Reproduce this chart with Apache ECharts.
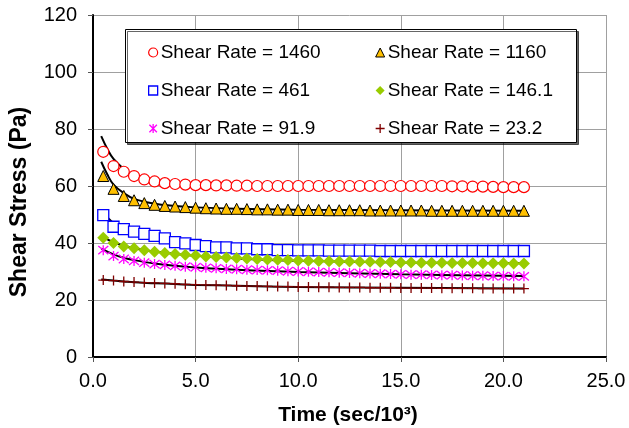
<!DOCTYPE html>
<html>
<head>
<meta charset="utf-8">
<script src="https://cdn.jsdelivr.net/npm/echarts@6/dist/echarts.min.js"></script>
<style>
  html, body { margin: 0; padding: 0; background: #fff; }
  #chart { width: 629px; height: 428px; }
</style>
</head>
<body>
<div id="chart"></div>
<script>
// Measurement times (sec/10^3)
const times = [0.5,1,1.5,2,2.5,3,3.5,4,4.5,5,5.5,6,6.5,7,7.5,8,8.5,9,9.5,10,10.5,11,11.5,12,12.5,13,13.5,14,14.5,15,15.5,16,16.5,17,17.5,18,18.5,19,19.5,20,20.5,21];

// Measured shear stress (Pa) per shear rate
const rate1460 = [72,67,65,63.5,62.3,61.6,61,60.7,60.5,60.3,60.3,60.2,60.2,60.1,60.1,60,60,60,60,60,60,60,60,60,60,60,60,60,60,60,60,60,60,60,59.9,59.9,59.8,59.8,59.7,59.6,59.6,59.6];
const rate1160 = [63.5,59,56.5,55,54,53.4,53,52.8,52.6,52.4,52.2,52.1,52,52,51.9,51.8,51.8,51.7,51.7,51.6,51.6,51.6,51.5,51.5,51.5,51.5,51.4,51.4,51.4,51.4,51.4,51.4,51.3,51.3,51.3,51.3,51.3,51.3,51.3,51.3,51.3,51.3];
const rate461 = [49.8,45.7,44.9,44.0,43.2,42.5,41.6,40.3,39.9,39.3,38.9,38.5,38.5,38.1,38.1,37.8,37.8,37.5,37.5,37.4,37.4,37.4,37.3,37.3,37.3,37.3,37.3,37.2,37.2,37.2,37.2,37.2,37.2,37.2,37.2,37.2,37.2,37.2,37.2,37.2,37.2,37.2];
const rate146 = [41.8,40,38.8,38.2,37.5,36.9,36.5,36.1,35.9,35.6,35.3,35.1,34.9,34.7,34.6,34.4,34.2,34.1,34.0,33.9,33.8,33.7,33.6,33.5,33.5,33.4,33.4,33.3,33.3,33.2,33.2,33.1,33.1,33.1,33.0,33.0,33.0,32.9,32.9,32.9,32.8,32.8];
const rate91 = [37.5,35.4,34.4,33.7,33.1,32.6,32.3,32.0,31.7,31.5,31.3,31.1,30.9,30.8,30.6,30.5,30.4,30.3,30.1,30.0,29.9,29.8,29.7,29.6,29.5,29.4,29.3,29.2,29.1,29.0,28.9,28.9,28.8,28.7,28.7,28.6,28.5,28.5,28.4,28.4,28.3,28.3];
const rate23 = [27,26.8,26.5,26.3,26.1,26,25.8,25.7,25.5,25.4,25.3,25.2,25.1,25.0,24.9,24.9,24.8,24.7,24.7,24.6,24.6,24.5,24.5,24.4,24.4,24.4,24.3,24.3,24.3,24.2,24.2,24.2,24.2,24.1,24.1,24.1,24.1,24.0,24.0,24.0,24.0,24.0];

// Model fit curves (sampled)
const fitTimes = [0.4,0.7,1,1.5,2,3,4,5,7,10,15,21];
const fit1460 = [77.5,73,69.5,66,63.5,61.5,60.8,60.4,60.2,60.1,60,60];
const fit1160 = [68.5,64,60.5,57.5,55.5,53.8,53,52.5,52,51.7,51.5,51.3];
const fit461 = [51.6,49,47,45,43.5,41.8,40.5,39.6,38.5,37.8,37.4,37.2];
const fit146 = [42.5,41.3,40.3,39,38.2,37,36.2,35.5,34.6,33.8,33.2,32.9];
const fit91 = [38,37,36,34.8,34,32.8,32,31.4,30.6,29.8,29,28.4];
const fit23 = [27.2,27,26.8,26.5,26.2,25.9,25.6,25.3,25,24.6,24.3,24];

const xTicks = { min: 0, max: 25, step: 5 };
const yTicks = { min: 0, max: 120, step: 20 };

const xTitle = 'Time (sec/10³)';
const yTitle = 'Shear Stress (Pa)';

const FONT = '"Liberation Sans", Arial, sans-serif';

function pairs(xs, ys) { return xs.map((x, i) => [x, ys[i]]); }

const starPath = 'path://M0,0L10,10M10,0L0,10M5,-1L5,11';
const plusPath = 'path://M5,0L5,10M0,5L10,5';

const markerSeries = [
  { name: 'Shear Rate = 1460', data: rate1460, symbol: 'circle', size: 11,
    style: { color: '#fff', borderColor: '#ff0000', borderWidth: 1.2 } },
  { name: 'Shear Rate = 1160', data: rate1160, symbol: 'triangle', size: 11,
    style: { color: '#ffc000', borderColor: '#000', borderWidth: 1 } },
  { name: 'Shear Rate = 461', data: rate461, symbol: 'rect', size: 11,
    style: { color: '#fff', borderColor: '#0000ff', borderWidth: 1.3 } },
  { name: 'Shear Rate = 146.1', data: rate146, symbol: 'diamond', size: 12,
    style: { color: '#99cc00', borderWidth: 0 } },
  { name: 'Shear Rate = 91.9', data: rate91, symbol: starPath, size: 10,
    style: { color: 'transparent', borderColor: '#ff00ff', borderWidth: 1.3 } },
  { name: 'Shear Rate = 23.2', data: rate23, symbol: plusPath, size: 10,
    style: { color: 'transparent', borderColor: '#800000', borderWidth: 1.3 } }
];

const fits = [fit1460, fit1160, fit461, fit146, fit91, fit23];

const series = [];
fits.forEach((f, i) => {
  series.push({
    name: 'fit' + i, type: 'line', data: pairs(fitTimes, f),
    smooth: 0.4, showSymbol: false, silent: true, z: 2,
    lineStyle: { color: '#000', width: 2 }
  });
});
markerSeries.forEach(s => {
  series.push({
    name: s.name, type: 'line', data: pairs(times, s.data),
    symbol: s.symbol, symbolSize: s.size, showSymbol: true,
    lineStyle: { width: 0, opacity: 0 }, itemStyle: s.style, z: 3
  });
});

function legendCol(names, left) {
  return {
    data: names.map(n => {
      const s = markerSeries.find(m => m.name === n);
      return { name: n, icon: s.symbol, itemStyle: s.style };
    }),
    orient: 'vertical', left: left, top: 38, z: 60,
    itemWidth: 9, itemHeight: 9, itemGap: 19,
    textStyle: { fontFamily: FONT, fontSize: 19, color: '#000', padding: [0, 0, 0, -2] },
    selectedMode: false
  };
}

const chart = echarts.init(document.getElementById('chart'), null, { renderer: 'canvas' });
chart.setOption({
  animation: false,
  backgroundColor: '#fff',
  grid: { left: 93, right: 23, top: 15, bottom: 71, containLabel: false },
  xAxis: {
    type: 'value', min: xTicks.min, max: xTicks.max, interval: xTicks.step,
    axisLine: { lineStyle: { color: '#000', width: 2 } },
    axisTick: { show: true, inside: false, length: 5, lineStyle: { color: '#555', width: 1 } },
    axisLabel: { fontFamily: FONT, fontSize: 20, color: '#000', margin: 14, formatter: v => v.toFixed(1) },
    splitLine: { show: true, lineStyle: { color: '#a0a0a0', width: 1 } }
  },
  yAxis: {
    type: 'value', min: yTicks.min, max: yTicks.max, interval: yTicks.step,
    axisLine: { show: true, lineStyle: { color: '#000', width: 2 } },
    axisTick: { show: true, inside: false, length: 5, lineStyle: { color: '#555', width: 1 } },
    axisLabel: { fontFamily: FONT, fontSize: 20, color: '#000', margin: 16 },
    splitLine: { show: true, lineStyle: { color: '#a0a0a0', width: 1 } }
  },
  legend: [
    legendCol(['Shear Rate = 1460', 'Shear Rate = 461', 'Shear Rate = 91.9'], 143),
    legendCol(['Shear Rate = 1160', 'Shear Rate = 146.1', 'Shear Rate = 23.2'], 370)
  ],
  graphic: [
    {
      // legend frame
      type: 'rect', left: 125, top: 29, z: 50,
      shape: { width: 451, height: 113 },
      style: { fill: '#fff', stroke: '#000', lineWidth: 1,
        shadowColor: 'rgba(0,0,0,0.6)', shadowOffsetX: 2, shadowOffsetY: 2, shadowBlur: 0 }
    },
    {
      type: 'text', x: 348, y: 415, z: 50,
      style: { text: xTitle, fontFamily: FONT, fontSize: 21, fontWeight: 'bold', fill: '#000',
        align: 'center', verticalAlign: 'middle' }
    },
    {
      type: 'text', x: 20, y: 202, rotation: Math.PI / 2, z: 50,
      style: { text: yTitle, fontFamily: FONT, fontSize: 23, fontWeight: 'bold', fill: '#000',
        align: 'center', verticalAlign: 'middle' }
    }
  ],
  series: series
});
</script>
</body>
</html>
